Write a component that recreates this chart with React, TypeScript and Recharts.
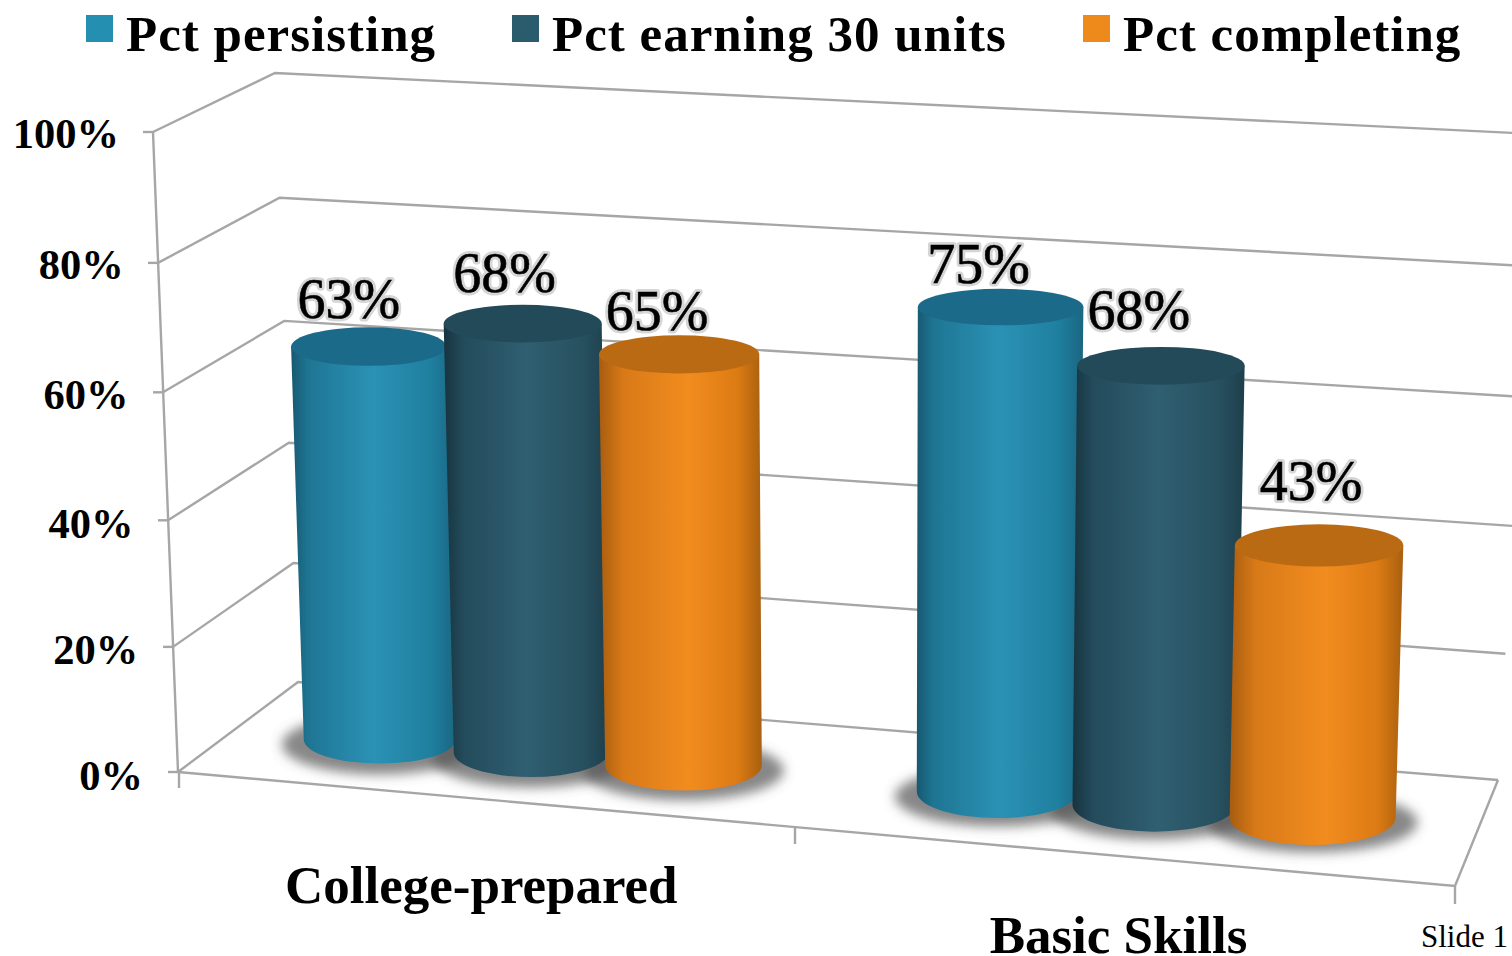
import { BarChart, Bar, XAxis, YAxis, CartesianGrid, Legend, LabelList } from "recharts";

const categories = ["College-prepared", "Basic Skills"];
const pctPersisting = [63, 75];
const pctEarning30 = [68, 68];
const pctCompleting = [65, 43];
const yTicks = [0, 20, 40, 60, 80, 100];

const data = categories.map((category, i) => ({
  category,
  persisting: pctPersisting[i],
  earning: pctEarning30[i],
  completing: pctCompleting[i],
}));

const FONT = "'Liberation Serif', serif";
const LINE = "#a6a6a6";

// flat plot area that gets bent into the fake 3D view below
const PLOT_TOP = 100;
const PLOT_H = 600;
const PLOT_BOTTOM = PLOT_TOP + PLOT_H;
const toValue = (py: number) => ((PLOT_BOTTOM - py) / PLOT_H) * 100;

const bow = (v: number) => 0.0018 * v * (100 - v);
const frontEdge = (v: number) => [178 - 0.25 * v, 772 - 6.4 * v + bow(v)];
const backEdge = (v: number) => [298 - 0.23 * v, 682 - 6.09 * v + bow(v)];
const rightEdge = (v: number) => [1498 + 0.37 * v, 780 - 6.46 * v + bow(v)];

// cylinders stand on a plane halfway down the floor
const floorX = (cx: number) => cx + 0.00003 * (cx - 800) ** 2 - 5.5 + 0.002 * (cx - 380);
const lean = (cx: number) => 0.00035 * (cx - 880);
const baseY = (cx: number) => 739.5 + 0.084 * (cx - 380);
const unitH = (cx: number) => 6.25 + (0.22 * (cx - 380)) / 930;
const heightAt = (cx: number, v: number) => unitH(cx) * v * (1 + 0.001 * (v - 65));
const widthAt = (cx: number) => 152 + (14 * (cx - 380)) / 930;

function gridLine(props: any) {
  const v = Math.round(toValue(props.y1));
  const f = frontEdge(v);
  const b = backEdge(v);
  const r = rightEdge(v);
  const common = { stroke: LINE, strokeWidth: 2.4, fill: "none" };
  return (
    <g key={`grid-${v}`}>
      <polyline points={`${f} ${b} ${r}`} {...common} />
      <line x1={f[0] - 10} y1={f[1]} x2={f[0]} y2={f[1]} {...common} />
      {v === 0 && (
        <>
          <line x1={f[0]} y1={f[1]} x2={frontEdge(100)[0]} y2={frontEdge(100)[1]} {...common} />
          <polyline points={`${f} 1455,886 ${r}`} {...common} />
          <line x1={179} y1={772} x2={179} y2={788} {...common} />
          <line x1={795} y1={828} x2={795} y2={844} {...common} />
          <line x1={1455} y1={886} x2={1455} y2={904} {...common} />
        </>
      )}
    </g>
  );
}

function YTick({ payload }: any) {
  const v = payload.value;
  return (
    <text
      x={143 - 0.24 * v}
      y={790 - 6.42 * v + bow(v)}
      textAnchor="end"
      fontFamily={FONT}
      fontWeight="bold"
      fontSize={42.5}
      fill="#000"
    >
      {v}%
    </text>
  );
}

function XTick({ x, payload }: any) {
  return (
    <text
      x={481 + 1.027 * (x - 534)}
      y={903 + 0.0805 * (x - 534)}
      textAnchor="middle"
      fontFamily={FONT}
      fontWeight="bold"
      fontSize={53}
      fill="#000"
    >
      {payload.value}
    </text>
  );
}

function Shadow({ x, width }: any) {
  const cx = x + width / 2;
  const rx = widthAt(cx) / 2 + 22;
  return (
    <ellipse
      cx={floorX(cx)}
      cy={baseY(cx) + 5}
      rx={rx}
      ry={30}
      fill="#555"
      fillOpacity={0.7}
      filter="url(#floorBlur)"
    />
  );
}

function cylinder(gradient: string, topColor: string) {
  return function Cylinder({ x, y, width }: any) {
    const cx = x + width / 2;
    const v = toValue(y);
    const half = widthAt(cx) / 2;
    const bx = floorX(cx);
    const yb = baseY(cx);
    const yt = yb - heightAt(cx, v);
    const tx = bx + lean(cx) * v;
    const halfT = half + 0.00035 * half * v;
    const ryB = 24 + 0.004 * (cx - 380);
    const ryT = 25 - 0.09 * v;
    const side =
      `M${tx - halfT},${yt} L${bx - half},${yb} ` +
      `A${half},${ryB} 0 0 0 ${bx + half},${yb} ` +
      `L${tx + halfT},${yt} Z`;
    return (
      <g>
        <path d={side} fill={`url(#${gradient})`} />
        <ellipse cx={tx} cy={yt} rx={halfT} ry={ryT} fill={topColor} />
      </g>
    );
  };
}

// the data labels were placed by hand in the original, small per-label nudges
const labelShift = {
  persisting: [[-20, 29], [-22, 24]],
  earning: [[-18, 32], [-22, 37]],
  completing: [[-22, 24], [-8, 45]],
};

function valueLabel(key: keyof typeof labelShift) {
  return function ValueLabel(props: any) {
    const box = props.viewBox ?? props;
    const cx = box.x + box.width / 2;
    const v = toValue(box.y);
    const [dx, lift] = labelShift[key][props.index];
    const pos = {
      x: floorX(cx) + lean(cx) * v + dx,
      y: baseY(cx) - heightAt(cx, v) - lift,
      textAnchor: "middle",
      fontFamily: FONT,
      fontSize: 56,
    };
    return (
      <g>
        <text {...pos} fill="#d6d6d6" stroke="#d6d6d6" strokeWidth={6} strokeLinejoin="round">
          {props.value}%
        </text>
        <text {...pos} fill="#000" stroke="#000" strokeWidth={0.6}>
          {props.value}%
        </text>
      </g>
    );
  };
}

const legendLeft = [86, 512, 1083];

function LegendRow({ payload }: any) {
  const items = (payload ?? []).filter((p: any) => p.type !== "none");
  return (
    <div>
      {items.map((p: any, i: number) => (
        <div
          key={p.value}
          style={{
            position: "absolute",
            left: legendLeft[i],
            top: 0,
            whiteSpace: "nowrap",
          }}
        >
          <span
            style={{
              position: "absolute",
              left: 0,
              top: 15,
              width: 27,
              height: 27,
              background: p.color,
            }}
          />
          <span
            style={{
              position: "absolute",
              left: 40,
              top: 5,
              fontFamily: FONT,
              fontWeight: "bold",
              fontSize: 51,
              letterSpacing: 1,
              lineHeight: "58px",
              color: "#000",
            }}
          >
            {p.value}
          </span>
        </div>
      ))}
    </div>
  );
}

const stops = (list: [number, string][]) =>
  list.map(([o, c]) => <stop key={o} offset={o} stopColor={c} />);

export default function App() {
  return (
    <div style={{ position: "absolute", left: 0, top: 0, width: 1512, height: 956, background: "#fff", overflow: "hidden" }}>
      <BarChart
        width={1512}
        height={956}
        data={data}
        margin={{ top: PLOT_TOP, right: 47, bottom: 956 - PLOT_BOTTOM - 1, left: 223 }}
        barSize={158}
        barGap={-4}
      >
        <defs>
          <filter id="floorBlur" x="-20%" y="-60%" width="140%" height="220%">
            <feGaussianBlur stdDeviation="6" />
          </filter>
          <linearGradient id="tealBody" x1="0" y1="0" x2="1" y2="0">
            {stops([[0, "#185870"], [0.1, "#1e7593"], [0.5, "#2b92b5"], [0.85, "#1f7f9f"], [1, "#1a6681"]])}
          </linearGradient>
          <linearGradient id="slateBody" x1="0" y1="0" x2="1" y2="0">
            {stops([[0, "#17343f"], [0.12, "#234b5b"], [0.5, "#2f5f71"], [0.85, "#27505f"], [1, "#1e3f4c"]])}
          </linearGradient>
          <linearGradient id="orangeBody" x1="0" y1="0" x2="1" y2="0">
            {stops([[0, "#a85c10"], [0.15, "#d87a18"], [0.55, "#f28c1f"], [0.85, "#dc7b14"], [1, "#a9600f"]])}
          </linearGradient>
        </defs>
        <CartesianGrid horizontal={gridLine} vertical={false} />
        <XAxis
          dataKey="category"
          height={1}
          axisLine={false}
          tickLine={false}
          interval={0}
          tick={<XTick />}
        />
        <XAxis dataKey="category" xAxisId="floor" hide />
        <YAxis
          domain={[0, 100]}
          ticks={yTicks}
          width={1}
          axisLine={false}
          tickLine={false}
          tick={<YTick />}
        />
        <Legend verticalAlign="top" height={0} itemSorter={null} wrapperStyle={{ left: 0, top: 0 }} content={<LegendRow />} />
        <Bar dataKey="persisting" xAxisId="floor" legendType="none" shape={<Shadow />} isAnimationActive={false} />
        <Bar dataKey="earning" xAxisId="floor" legendType="none" shape={<Shadow />} isAnimationActive={false} />
        <Bar dataKey="completing" xAxisId="floor" legendType="none" shape={<Shadow />} isAnimationActive={false} />
        <Bar dataKey="persisting" name="Pct persisting" fill="#258fb1" shape={cylinder("tealBody", "#1c6a8a")} isAnimationActive={false}>
          <LabelList dataKey="persisting" content={valueLabel("persisting")} />
        </Bar>
        <Bar dataKey="earning" name="Pct earning 30 units" fill="#2a5c6e" shape={cylinder("slateBody", "#234a59")} isAnimationActive={false}>
          <LabelList dataKey="earning" content={valueLabel("earning")} />
        </Bar>
        <Bar dataKey="completing" name="Pct completing" fill="#ee8a1c" shape={cylinder("orangeBody", "#ba6a12")} isAnimationActive={false}>
          <LabelList dataKey="completing" content={valueLabel("completing")} />
        </Bar>
        <text x={1421} y={947} fontFamily={FONT} fontSize={31} fill="#000">
          Slide 1
        </text>
      </BarChart>
    </div>
  );
}
